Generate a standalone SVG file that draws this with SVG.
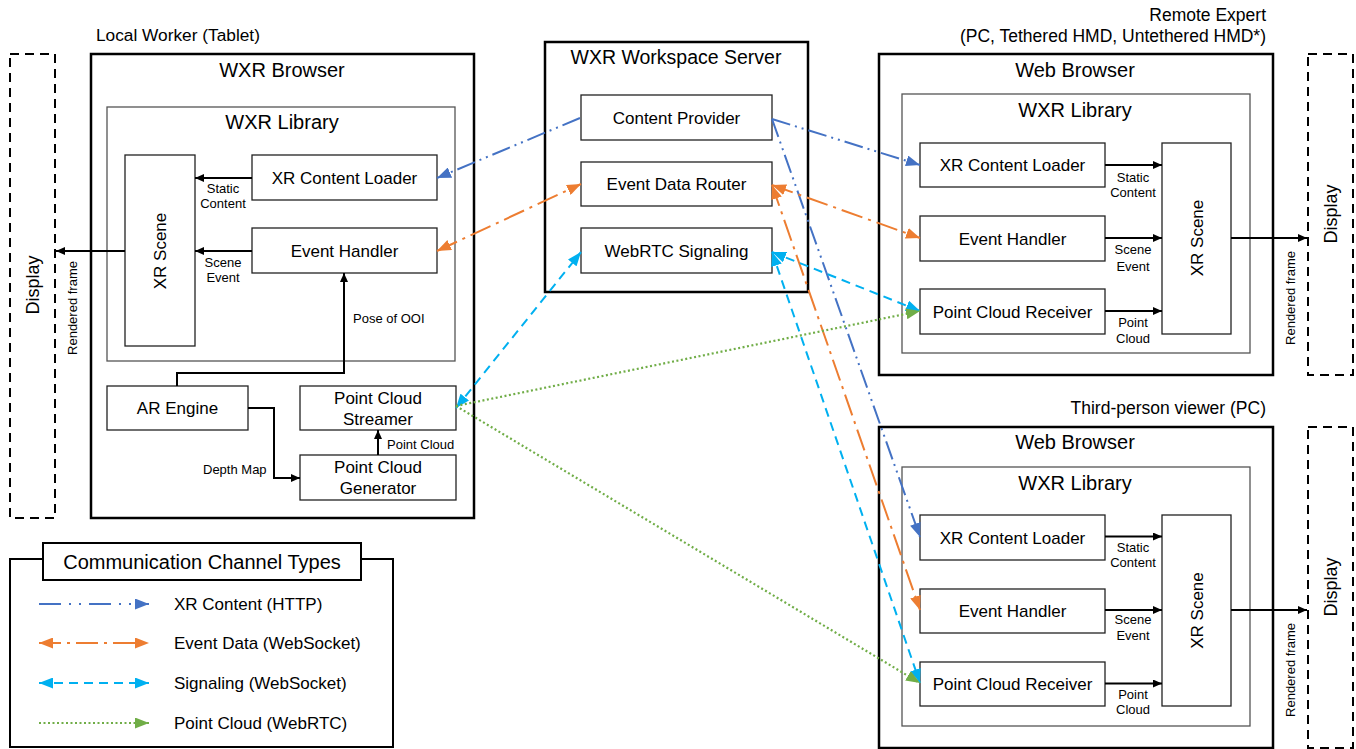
<svg xmlns="http://www.w3.org/2000/svg" width="1356" height="749" viewBox="0 0 1356 749">
<style>
text{font-family:"Liberation Sans",Arial,sans-serif;fill:#000}
.outer{fill:#fff;stroke:#000;stroke-width:2.5}
.lib{fill:#fff;stroke:#555;stroke-width:1.3}
.comp{fill:#fff;stroke:#222;stroke-width:1.3}
.disp{fill:none;stroke:#000;stroke-width:2;stroke-dasharray:9 6}
.t20{font-size:20px;text-anchor:middle}
.t17{font-size:17px;text-anchor:middle}
.t18{font-size:18px;text-anchor:middle}
.t17s{font-size:17.3px}
.t13{font-size:13px;text-anchor:middle}
.t13s{font-size:13px}
.t15{font-size:17px}
.blk{fill:none;stroke:#000;stroke-width:2;marker-end:url(#ab)}
.blue{fill:none;stroke:#4472C4;stroke-width:2;stroke-dasharray:19 5 2 5 2 5;marker-end:url(#mb)}
.orange{fill:none;stroke:#ED7D31;stroke-width:2;stroke-dasharray:22 6 3 6;marker-start:url(#mo);marker-end:url(#mo)}
.cyan{fill:none;stroke:#00B0F0;stroke-width:2;stroke-dasharray:9 6;marker-start:url(#mc);marker-end:url(#mc)}
.green{fill:none;stroke:#70AD47;stroke-width:2.2;stroke-dasharray:2 2.5;marker-end:url(#mg)}
</style>
<defs>
<marker id="ab" markerUnits="userSpaceOnUse" markerWidth="9" markerHeight="8" refX="9" refY="4" orient="auto"><path d="M0,0 L9,4 L0,8 z" fill="#000"/></marker>
<marker id="mb" markerUnits="userSpaceOnUse" markerWidth="14" markerHeight="11" refX="14" refY="5.5" orient="auto-start-reverse"><path d="M0,0 L14,5.5 L0,11 z" fill="#4472C4"/></marker>
<marker id="mo" markerUnits="userSpaceOnUse" markerWidth="14" markerHeight="11" refX="14" refY="5.5" orient="auto-start-reverse"><path d="M0,0 L14,5.5 L0,11 z" fill="#ED7D31"/></marker>
<marker id="mc" markerUnits="userSpaceOnUse" markerWidth="14" markerHeight="11" refX="14" refY="5.5" orient="auto-start-reverse"><path d="M0,0 L14,5.5 L0,11 z" fill="#00B0F0"/></marker>
<marker id="mg" markerUnits="userSpaceOnUse" markerWidth="14" markerHeight="11" refX="14" refY="5.5" orient="auto-start-reverse"><path d="M0,0 L14,5.5 L0,11 z" fill="#70AD47"/></marker>
</defs>
<rect width="1356" height="749" fill="#fff"/>

<!-- Local worker -->
<g id="local-display">
<rect class="disp" x="10" y="54" width="45" height="464"/>
<text class="t18" transform="translate(33,285) rotate(-90)" dy="0.35em">Display</text>
</g>
<g id="local-browser">
<text class="t17s" x="96" y="41">Local Worker (Tablet)</text>
<rect class="outer" x="91" y="54" width="383" height="464"/>
<text class="t20" x="282" y="77">WXR Browser</text>
</g>
<g id="local-library">
<rect class="lib" x="107" y="107" width="348" height="254"/>
<text class="t20" x="282" y="129">WXR Library</text>
</g>
<g id="local-xrscene">
<rect class="comp" x="125" y="155" width="70" height="191"/>
<text class="t17" transform="translate(160,251) rotate(-90)" dy="0.35em">XR Scene</text>
</g>
<g id="local-loader">
<rect class="comp" x="252" y="155" width="185" height="45"/>
<text class="t17" x="344.5" y="183.5">XR Content Loader</text>
</g>
<g id="local-event">
<rect class="comp" x="252" y="228" width="185" height="45"/>
<text class="t17" x="344.5" y="256.5">Event Handler</text>
</g>
<g id="local-ar">
<rect class="comp" x="107" y="386" width="141" height="44"/>
<text class="t17" x="177.5" y="414">AR Engine</text>
</g>
<g id="local-streamer">
<rect class="comp" x="300" y="386" width="156" height="44"/>
<text class="t17" x="378" y="404">Point Cloud</text>
<text class="t17" x="378" y="425">Streamer</text>
</g>
<g id="local-generator">
<rect class="comp" x="300" y="455" width="156" height="45"/>
<text class="t17" x="378" y="473">Point Cloud</text>
<text class="t17" x="378" y="494">Generator</text>
</g>

<!-- Server -->
<g id="server">
<rect class="outer" x="545" y="42" width="263" height="250"/>
<text class="t20" x="676" y="64" style="font-size:19.5px">WXR Workspace Server</text>
</g>
<g id="content-provider">
<rect class="comp" x="581" y="95" width="191" height="45"/>
<text class="t17" x="676.5" y="123.5">Content Provider</text>
</g>
<g id="event-router">
<rect class="comp" x="581" y="162" width="191" height="44"/>
<text class="t17" x="676.5" y="190">Event Data Router</text>
</g>
<g id="webrtc-signaling">
<rect class="comp" x="581" y="228" width="191" height="45"/>
<text class="t17" x="676.5" y="256.5">WebRTC Signaling</text>
</g>

<!-- Remote expert -->
<g id="remote-browser">
<text class="t17s" x="1266" y="21" text-anchor="end" style="font-size:17.5px">Remote Expert</text>
<text class="t17s" x="1266" y="42" text-anchor="end" style="font-size:17.5px">(PC, Tethered HMD, Untethered HMD*)</text>
<rect class="outer" x="879" y="54" width="394" height="321"/>
<text class="t20" x="1075" y="77">Web Browser</text>
</g>
<g id="remote-library">
<rect class="lib" x="902" y="94" width="348" height="259"/>
<text class="t20" x="1075" y="117">WXR Library</text>
</g>
<g id="remote-loader">
<rect class="comp" x="920" y="143" width="185" height="44"/>
<text class="t17" x="1012.5" y="171">XR Content Loader</text>
</g>
<g id="remote-event">
<rect class="comp" x="920" y="216" width="185" height="45"/>
<text class="t17" x="1012.5" y="244.5">Event Handler</text>
</g>
<g id="remote-receiver">
<rect class="comp" x="920" y="289" width="185" height="45"/>
<text class="t17" x="1012.5" y="317.5">Point Cloud Receiver</text>
</g>
<g id="remote-xrscene">
<rect class="comp" x="1162" y="143" width="69" height="191"/>
<text class="t17" transform="translate(1197,238) rotate(-90)" dy="0.35em">XR Scene</text>
</g>
<g id="remote-display">
<rect class="disp" x="1308" y="54" width="45" height="321"/>
<text class="t18" transform="translate(1331,214) rotate(-90)" dy="0.35em">Display</text>
</g>

<!-- Third-person viewer -->
<g id="third-browser">
<text class="t17s" x="1266" y="414" text-anchor="end" style="font-size:17.5px">Third-person viewer (PC)</text>
<rect class="outer" x="879" y="427" width="394" height="321"/>
<text class="t20" x="1075" y="449">Web Browser</text>
</g>
<g id="third-library">
<rect class="lib" x="902" y="467" width="348" height="259"/>
<text class="t20" x="1075" y="490">WXR Library</text>
</g>
<g id="third-loader">
<rect class="comp" x="920" y="515" width="185" height="45"/>
<text class="t17" x="1012.5" y="543.5">XR Content Loader</text>
</g>
<g id="third-event">
<rect class="comp" x="920" y="589" width="185" height="44"/>
<text class="t17" x="1012.5" y="617">Event Handler</text>
</g>
<g id="third-receiver">
<rect class="comp" x="920" y="662" width="185" height="44"/>
<text class="t17" x="1012.5" y="690">Point Cloud Receiver</text>
</g>
<g id="third-xrscene">
<rect class="comp" x="1162" y="515" width="69" height="191"/>
<text class="t17" transform="translate(1197,610.5) rotate(-90)" dy="0.35em">XR Scene</text>
</g>
<g id="third-display">
<rect class="disp" x="1308" y="427" width="45" height="321"/>
<text class="t18" transform="translate(1331,587) rotate(-90)" dy="0.35em">Display</text>
</g>

<!-- Connectors -->
<g id="connectors">
<path class="blk" d="M252,178 H195"/>
<path class="blk" d="M252,251 H195"/>
<path class="blk" d="M125,251 H56"/>
<path class="blk" d="M177,386 V373 H344 V273"/>
<path class="blk" d="M248,408 H274 V478 H300"/>
<path class="blk" d="M378,455 V430"/>
<path class="blk" d="M1105,165 H1162"/>
<path class="blk" d="M1105,238 H1162"/>
<path class="blk" d="M1105,311 H1162"/>
<path class="blk" d="M1231,238 H1307"/>
<path class="blk" d="M1105,536.5 H1162"/>
<path class="blk" d="M1105,610 H1162"/>
<path class="blk" d="M1105,683.5 H1162"/>
<path class="blk" d="M1231,610 H1307"/>

<text class="t13" x="223" y="192.5">Static</text>
<text class="t13" x="223" y="207.5">Content</text>
<text class="t13" x="223" y="266.5">Scene</text>
<text class="t13" x="223" y="281.5">Event</text>
<text class="t13" transform="translate(72,308) rotate(-90)" dy="0.35em">Rendered frame</text>
<text class="t13s" x="353" y="322.5">Pose of OOI</text>
<text class="t13s" x="203" y="473.5">Depth Map</text>
<text class="t13s" x="387" y="448.5">Point Cloud</text>

<text class="t13" x="1133" y="181.5">Static</text>
<text class="t13" x="1133" y="196.5">Content</text>
<text class="t13" x="1133" y="253.5">Scene</text>
<text class="t13" x="1133" y="270.5">Event</text>
<text class="t13" x="1133" y="326.5">Point</text>
<text class="t13" x="1133" y="342.5">Cloud</text>
<text class="t13" transform="translate(1290,298) rotate(-90)" dy="0.35em">Rendered frame</text>

<text class="t13" x="1133" y="551.5">Static</text>
<text class="t13" x="1133" y="566.5">Content</text>
<text class="t13" x="1133" y="623.5">Scene</text>
<text class="t13" x="1133" y="639.5">Event</text>
<text class="t13" x="1133" y="698.5">Point</text>
<text class="t13" x="1133" y="713.5">Cloud</text>
<text class="t13" transform="translate(1290,670) rotate(-90)" dy="0.35em">Rendered frame</text>

<path class="blue" d="M580,118 L437,178"/>
<path class="blue" d="M772,119 L920,165"/>
<path class="blue" d="M772,119 L920,537"/>
<path class="orange" d="M437,251 L581,184"/>
<path class="orange" d="M772,185 L920,238"/>
<path class="orange" d="M772,185 L920,610"/>
<path class="cyan" d="M456,408 L581,252"/>
<path class="cyan" d="M772,252 L920,311"/>
<path class="cyan" d="M772,252 L920,683"/>
<path class="green" d="M456,406 L920,311"/>
<path class="green" d="M456,406 L920,683"/>
</g>

<!-- Legend -->
<g id="legend">
<rect x="10" y="559" width="383" height="188" fill="#fff" stroke="#000" stroke-width="2"/>
<rect x="43" y="543" width="318" height="37" fill="#fff" stroke="#000" stroke-width="2"/>
<text class="t20" x="202" y="569">Communication Channel Types</text>
<path class="blue" d="M39,604 H149" style="stroke-dasharray:22 8 2 8 2 8"/>
<path class="orange" d="M39,643 H149"/>
<path class="cyan" d="M39,683 H149"/>
<path class="green" d="M39,723 H149"/>
<text class="t15" x="174" y="609.5">XR Content (HTTP)</text>
<text class="t15" x="174" y="648.5">Event Data (WebSocket)</text>
<text class="t15" x="174" y="688.5">Signaling (WebSocket)</text>
<text class="t15" x="174" y="728.5">Point Cloud (WebRTC)</text>
</g>
</svg>
